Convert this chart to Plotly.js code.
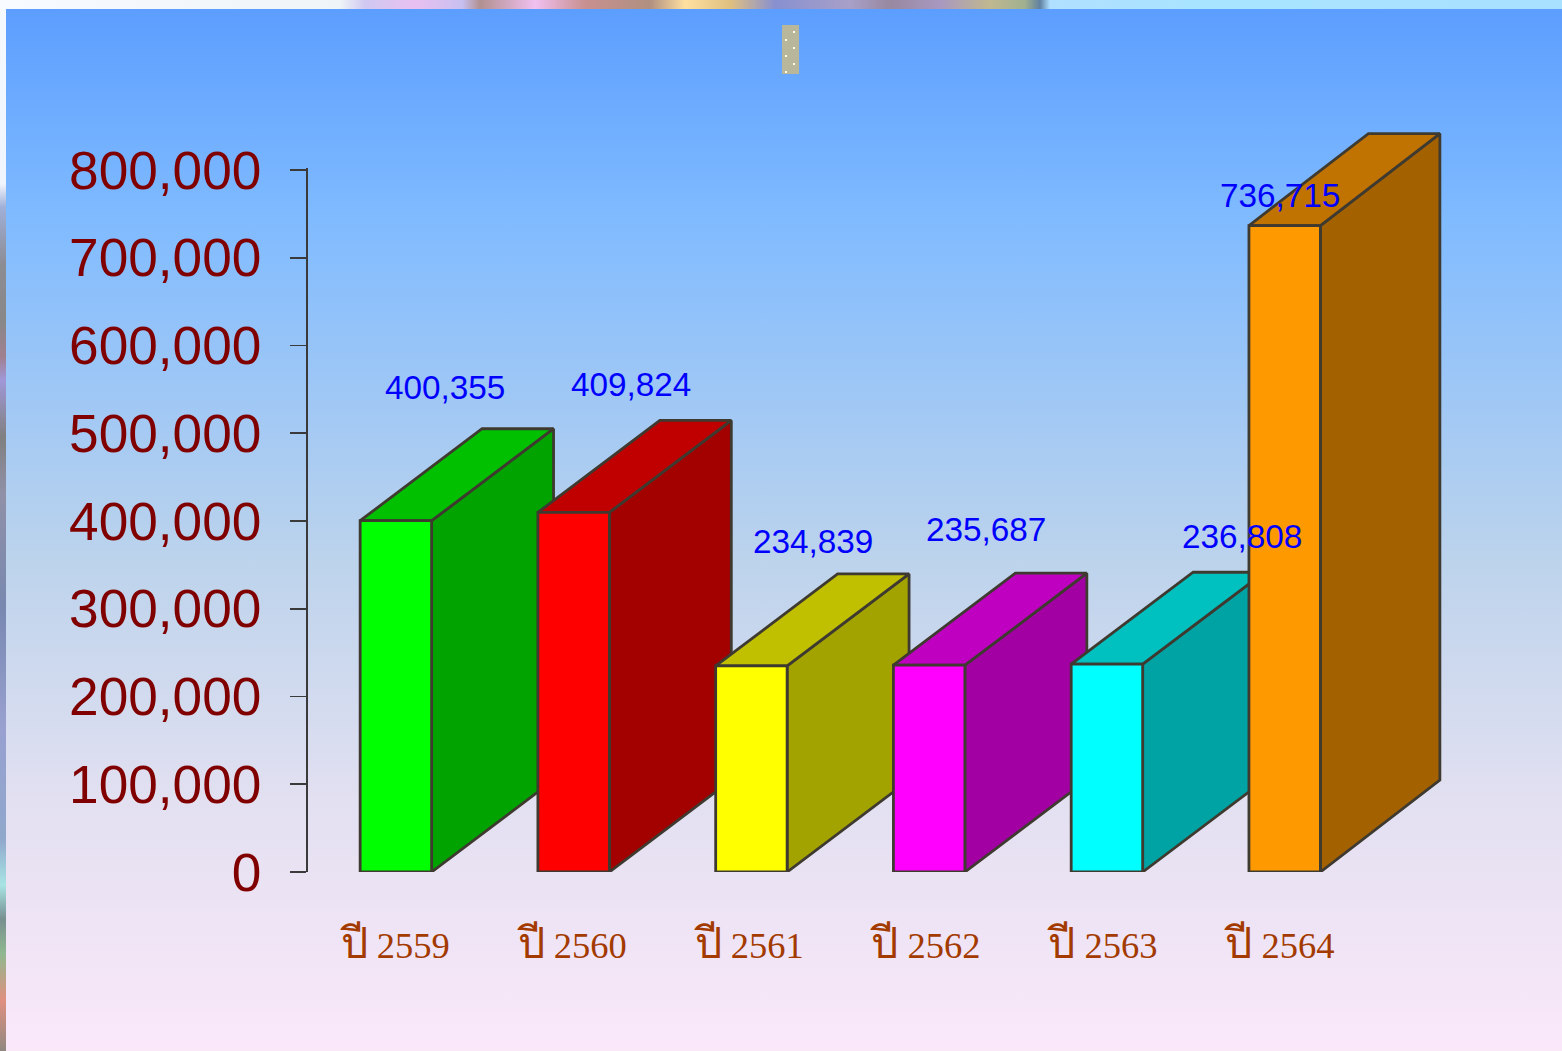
<!DOCTYPE html>
<html>
<head>
<meta charset="utf-8">
<script src="https://cdn.plot.ly/plotly-3.0.1.min.js"></script>
<style>
html,body{margin:0;padding:0;width:1562px;height:1051px;overflow:hidden;background:#fff}
#bg{position:absolute;left:0;top:0;width:1562px;height:1051px;
background:linear-gradient(180deg,#5c9eff 9px,#80bbff 220px,#bcd3ec 560px,#e2e0f1 800px,#fae8f9 1051px)}
#topstrip{position:absolute;left:0;top:0;width:1562px;height:9px;
background:linear-gradient(90deg,#f8fbff 0,#eef4f8 340px,#cfc8f0 365px,#e8c0f0 415px,#c8c0f0 462px,#b09090 480px,#f0c0f0 535px,#c89090 585px,#b09080 650px,#ffe0a0 685px,#e0c080 730px,#8890d0 775px,#a8a0c8 850px,#9888a0 890px,#a898c0 940px,#c0b890 990px,#a0b090 1025px,#6080a0 1040px,#b0e0ff 1050px,#a8e4ff 1200px,#a8e0ff 1562px)}
#leftstrip{position:absolute;left:0;top:9px;width:6px;height:1042px;
background:linear-gradient(180deg,#f4f8ff 0,#f0f4fc 175px,#a0b0d8 198px,#8c8c94 256px,#888888 313px,#a08090 348px,#a098d8 371px,#808080 428px,#9090a8 485px,#7888b0 600px,#98a0d0 715px,#90a8cc 830px,#a8e4e4 876px,#789090 910px,#90b890 945px,#e09080 991px,#908880 1042px)}
#chart{position:absolute;left:0;top:0}
</style>
</head>
<body>
<div id="bg"></div><div id="topstrip"></div><div id="leftstrip"></div>
<div id="chart"></div>
<script>
// Data
const categories = ['ปี 2559','ปี 2560','ปี 2561','ปี 2562','ปี 2563','ปี 2564'];
const values = [400355, 409824, 234839, 235687, 236808, 736715];
const yTicks = [0,100000,200000,300000,400000,500000,600000,700000,800000];
const frontColors = ['#00ff00','#ff0000','#ffff00','#ff00ff','#00ffff','#ff9900'];
const topColors   = ['#00c000','#c00000','#c0c000','#c000c0','#00c0c0','#c07300'];
const sideColors  = ['#00a300','#a30000','#a3a300','#a300a3','#00a3a3','#a36100'];

// Style constants
const halfW = 0.201, depthY = 104800;
const depthX = [0.686, 0.686, 0.686, 0.686, 0.686, 0.672];
const edge = {color:'#3f3a30', width:2.8};
const labelShiftX = [49, 57, 62, 57, 135, -5];
const labelShiftY = [133, 128, 124, 136, 128, 30];
const tickLabelStep = 0.9955, tickLabelOffset = -0.004;

const traces = [];
function face(xs, ys, color){
  traces.push({type:'scatter', mode:'lines', x:xs, y:ys, fill:'toself', fillcolor:color,
    line:edge, cliponaxis:false, hoverinfo:'skip', showlegend:false});
}
values.forEach((v,i)=>{
  const l=i-halfW, r=i+halfW, d=depthX[i];
  face([r,r+d,r+d,r,r],[0,depthY,v+depthY,v,0],sideColors[i]);
  face([l,l+d,r+d,r,l],[v,v+depthY,v+depthY,v,v],topColors[i]);
  face([l,r,r,l,l],[0,0,v,v,0],frontColors[i]);
});

const annotations = values.map((v,i)=>({
  x:i, y:v, xref:'x', yref:'y', text:v.toLocaleString('en-US'), showarrow:false,
  xshift:labelShiftX[i], yshift:labelShiftY[i], xanchor:'center', yanchor:'middle',
  font:{family:'"Liberation Sans",Arial,sans-serif', size:33.3, color:'#0000ff'}
}));

const W=1562, H=1051, mL=307, mR=112, mT=120, mB=179;
const yMax = 800000*(H-mB-mT)/702;
const px = x=>(x-mL)/(W-mL-mR), py = y=>(H-mB-y)/(H-mT-mB);
// y axis line, stopping at the last tick
const shapes = [{type:'line',xref:'paper',yref:'y',x0:0,x1:0,y0:0,y1:yTicks[yTicks.length-1]*1.003,
  line:{color:'#3a3a3a',width:2},layer:'above'}];
// Small mark at the top of the picture
shapes.push({type:'rect',xref:'paper',yref:'paper',x0:px(782),x1:px(799),y0:py(25),y1:py(74),
  fillcolor:'#b9b79b',line:{width:0},layer:'above'});
[[793,31],[785,39],[793,47],[785,55],[793,63],[785,71]].forEach(d=>shapes.push({
  type:'rect',xref:'paper',yref:'paper',x0:px(d[0]),x1:px(d[0]+2),y0:py(d[1]),y1:py(d[1]+2),
  fillcolor:'#fffbe8',line:{width:0},layer:'above'}));

const tickText = categories.map(c=>{
  const p=c.split(' ');
  return '<span style="font-size:43px">'+p[0]+'</span> '+p[1];
});

const layout = {
  width:W, height:H, margin:{l:mL,r:mR,t:mT,b:mB,pad:0},
  paper_bgcolor:'rgba(0,0,0,0)', plot_bgcolor:'rgba(0,0,0,0)',
  showlegend:false,
  xaxis:{range:[-0.5,5.93], tickmode:'array', tickvals:categories.map((c,i)=>i*tickLabelStep+tickLabelOffset), ticktext:tickText,
    showline:false, showgrid:false, zeroline:false, ticks:'', ticklabelstandoff:48,
    tickfont:{family:'"Liberation Serif","Times New Roman",serif', size:36.5, color:'#a33a00'}},
  yaxis:{range:[0,yMax], tickmode:'array', tickvals:yTicks, tickformat:',d',
    showline:false, showgrid:false, zeroline:false,
    ticks:'outside', ticklen:16, tickwidth:1.6, tickcolor:'#3a3a3a', ticklabelstandoff:18,
    tickfont:{family:'"Liberation Sans",Arial,sans-serif', size:53.2, color:'#800000'}},
  annotations, shapes
};
Plotly.newPlot('chart', traces, layout, {displayModeBar:false, staticPlot:true});
</script>
</body>
</html>
